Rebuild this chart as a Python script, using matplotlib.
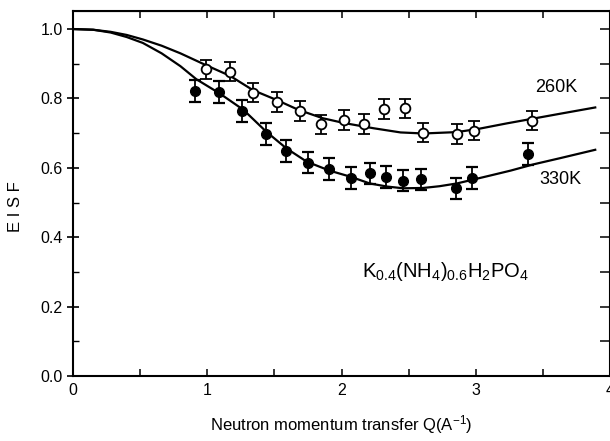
import numpy as np
import matplotlib
matplotlib.use("Agg")
import matplotlib.pyplot as plt

plt.rcParams['font.family'] = ['Liberation Sans', 'DejaVu Sans']
plt.rcParams['mathtext.fontset'] = 'custom'
plt.rcParams['mathtext.rm'] = 'Liberation Sans'
plt.rcParams['mathtext.it'] = 'Liberation Sans'

# measured EISF, 260K (open circles)
q_260 = [0.99, 1.17, 1.34, 1.52, 1.69, 1.85, 2.02, 2.17, 2.32, 2.47, 2.61, 2.86, 2.99, 3.42]
eisf_260 = [0.884, 0.877, 0.817, 0.790, 0.764, 0.725, 0.738, 0.726, 0.769, 0.771, 0.701, 0.697, 0.707, 0.736]
err_260 = [0.028, 0.028, 0.028, 0.028, 0.028, 0.028, 0.028, 0.028, 0.028, 0.028, 0.028, 0.028, 0.028, 0.028]

# measured EISF, 330K (filled circles)
q_330 = [0.91, 1.09, 1.26, 1.44, 1.59, 1.75, 1.91, 2.07, 2.21, 2.33, 2.46, 2.59, 2.85, 2.97, 3.39]
eisf_330 = [0.821, 0.819, 0.764, 0.697, 0.649, 0.615, 0.596, 0.571, 0.584, 0.574, 0.563, 0.567, 0.541, 0.570, 0.640]
err_330 = [0.031, 0.031, 0.031, 0.031, 0.031, 0.031, 0.031, 0.031, 0.031, 0.031, 0.031, 0.031, 0.031, 0.031, 0.031]

# model curves
q_fit_260 = [0.0, 0.15, 0.28, 0.40, 0.52, 0.66, 0.80, 0.99, 1.17, 1.34, 1.52, 1.68, 1.86, 2.02, 2.24,
             2.44, 2.61, 2.86, 3.03, 3.23, 3.43, 3.63, 3.89]
fit_260 = [1.000, 0.998, 0.992, 0.983, 0.970, 0.952, 0.930, 0.896, 0.865, 0.824, 0.795, 0.767, 0.743,
           0.729, 0.714, 0.702, 0.699, 0.703, 0.713, 0.728, 0.742, 0.756, 0.774]

q_fit_330 = [0.0, 0.15, 0.28, 0.40, 0.52, 0.66, 0.80, 0.92, 1.09, 1.27, 1.44, 1.59, 1.74, 1.91, 2.07,
             2.21, 2.34, 2.46, 2.61, 2.73, 2.86, 2.98, 3.11, 3.26, 3.43, 3.63, 3.89]
fit_330 = [1.000, 0.998, 0.990, 0.977, 0.960, 0.930, 0.893, 0.855, 0.815, 0.767, 0.704, 0.656, 0.618,
           0.592, 0.574, 0.555, 0.546, 0.541, 0.542, 0.547, 0.555, 0.566, 0.578, 0.592, 0.610, 0.628, 0.652]

fig = plt.figure(figsize=(6.1, 4.41), dpi=100)
ax = fig.add_axes([73 / 610, 65 / 441, 537 / 610, 365 / 441])

ax.plot(q_fit_260, fit_260, color='black', lw=1.6)
ax.plot(q_fit_330, fit_330, color='black', lw=1.6)

ax.errorbar(q_260, eisf_260, yerr=err_260, fmt='o', mfc='white', mec='black', mew=1.3,
            ms=7, ecolor='black', elinewidth=1.3, capsize=4.5, capthick=1.6, zorder=3)
ax.errorbar(q_330, eisf_330, yerr=err_330, fmt='o', mfc='black', mec='black',
            ms=7, ecolor='black', elinewidth=1.3, capsize=4.5, capthick=1.6, zorder=3)

ax.text(3.60, 0.832, '260K', fontsize=13, ha='center', va='center')
ax.text(3.63, 0.565, '330K', fontsize=13, ha='center', va='center')
ax.text(2.15, 0.285, r'K$_{0.4}$(NH$_4$)$_{0.6}$H$_2$PO$_4$', fontsize=14.5, ha='left', va='baseline')

ax.set_xlim(0, 4)
ax.set_ylim(0, 1.052)
ax.set_xticks([0, 1, 2, 3, 4])
ax.set_xticks([0.5, 1.5, 2.5, 3.5], minor=True)
ax.set_yticks([0.0, 0.2, 0.4, 0.6, 0.8, 1.0])
ax.set_yticklabels(['0.0', '0.2', '0.4', '0.6', '0.8', '1.0'])
ax.set_yticks(np.arange(0.1, 1.0, 0.2), minor=True)
ax.tick_params(axis='y', which='major', direction='inout', length=9, width=1.2, labelsize=11.5, pad=3)
ax.tick_params(axis='y', which='minor', direction='in', length=4, width=1.0)
ax.tick_params(axis='x', which='both', direction='in', length=5, width=1.1, labelsize=11.5, pad=5)

# top and right ticks (no labels)
top = ax.secondary_xaxis('top')
top.set_xticks(np.arange(0.5, 4.0, 0.5))
top.tick_params(direction='in', length=5, width=1.1, labeltop=False)
right = ax.secondary_yaxis('right')
right.set_yticks(np.arange(0.1, 1.05, 0.1))
right.tick_params(direction='in', length=7, width=1.1, labelright=False)
for s in ['left', 'bottom', 'top', 'right']:
    ax.spines[s].set_linewidth(1.5)

ax.set_xlabel(r'Neutron momentum transfer Q(A$^{-1}$)', fontsize=12, labelpad=11)
fig.text(15 / 610, 1 - 207 / 441, 'E I S F', fontsize=12, rotation=90, ha='center', va='center')

fig.savefig('out.png', dpi=100)
